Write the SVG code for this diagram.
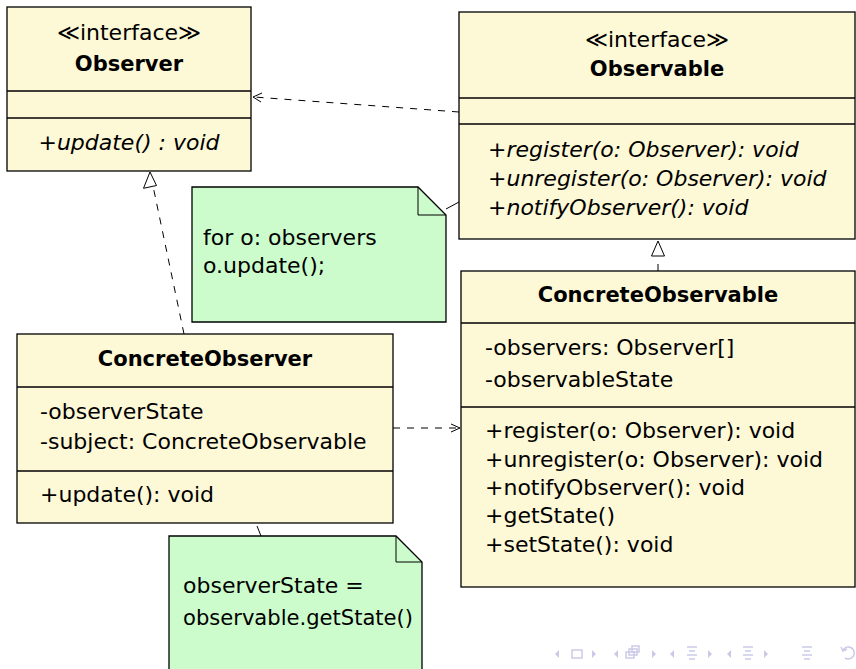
<svg xmlns="http://www.w3.org/2000/svg" width="856" height="669" viewBox="0 0 856 669">
<style>
.box{fill:#fdf8d6;stroke:#000;stroke-width:1.3}
.note{fill:#ccfccc;stroke:#000;stroke-width:1.3}
.sep{stroke:#000;stroke-width:1.3}
text{font-family:"DejaVu Sans","Liberation Sans",sans-serif;font-size:22px;fill:#000}
.t{font-weight:bold;font-size:21px;text-anchor:middle}
.st{text-anchor:middle}
.it{font-style:italic}
.dash{fill:none;stroke:#000;stroke-width:1;stroke-dasharray:7 7}
.solid{fill:none;stroke:#000;stroke-width:1}
.head{fill:none;stroke:#000;stroke-width:1}
.tri{fill:#fff;stroke:#000;stroke-width:1}
.nav{fill:#cacae8;stroke:none}
.navs{fill:none;stroke:#cacae8;stroke-width:1.5}
</style>
<rect width="856" height="669" fill="#fff"/>
<g id="connectors">
  <path class="dash" d="M459,112 L254,97"/>
  <path class="head" d="M262,93 L253,97 L261,102"/>
  <path class="solid" d="M446,209 L459,202"/>
  <path class="dash" d="M658,271 L658,257"/>
  <path class="tri" d="M658,241 L664.5,256 L651.5,256 Z"/>
  <path class="dash" d="M184,334 L153,186"/>
  <path class="tri" d="M150,172 L156.5,185.5 L143.5,188.3 Z"/>
  <path class="dash" d="M393,428 L459,428"/>
  <path class="head" d="M451,424 L460,428 L451,432"/>
  <path class="solid" d="M257,526 L261,536"/>
</g>
<g id="Observer">
  <rect class="box" x="7" y="7" width="244" height="164"/>
  <line class="sep" x1="7" y1="91" x2="251" y2="91"/>
  <line class="sep" x1="7" y1="118" x2="251" y2="118"/>
  <text class="st" x="129" y="40">≪interface≫</text>
  <text class="t" x="129" y="71">Observer</text>
  <text class="st it" x="129" y="150">+update() : void</text>
</g>
<g id="Observable">
  <rect class="box" x="459" y="12" width="396" height="227"/>
  <line class="sep" x1="459" y1="98" x2="855" y2="98"/>
  <line class="sep" x1="459" y1="124" x2="855" y2="124"/>
  <text class="st" x="657" y="47">≪interface≫</text>
  <text class="t" x="657" y="76">Observable</text>
  <text class="it" x="488" y="157">+register(o: Observer): void</text>
  <text class="it" x="488" y="186">+unregister(o: Observer): void</text>
  <text class="it" x="488" y="215">+notifyObserver(): void</text>
</g>
<g id="note1">
  <path class="note" d="M192,187 H418 L446,215 V322 H192 Z"/>
  <path class="solid" d="M418,187 V215 H446"/>
  <text x="203" y="245">for o: observers</text>
  <text x="203" y="273">o.update();</text>
</g>
<g id="ConcreteObservable">
  <rect class="box" x="461" y="271" width="394" height="316"/>
  <line class="sep" x1="461" y1="323" x2="855" y2="323"/>
  <line class="sep" x1="461" y1="407" x2="855" y2="407"/>
  <text class="t" x="658" y="302">ConcreteObservable</text>
  <text x="485" y="355">-observers: Observer[]</text>
  <text x="485" y="387">-observableState</text>
  <text x="485" y="438">+register(o: Observer): void</text>
  <text x="485" y="467">+unregister(o: Observer): void</text>
  <text x="485" y="495">+notifyObserver(): void</text>
  <text x="485" y="523">+getState()</text>
  <text x="485" y="552">+setState(): void</text>
</g>
<g id="ConcreteObserver">
  <rect class="box" x="17" y="334" width="376" height="189"/>
  <line class="sep" x1="17" y1="387" x2="393" y2="387"/>
  <line class="sep" x1="17" y1="471" x2="393" y2="471"/>
  <text class="t" x="205" y="366">ConcreteObserver</text>
  <text x="40" y="419">-observerState</text>
  <text x="40" y="449">-subject: ConcreteObservable</text>
  <text x="40" y="502">+update(): void</text>
</g>
<g id="note2">
  <path class="note" d="M169,536 H396 L422,562 V680 H169 Z"/>
  <path class="solid" d="M396,536 V562 H422"/>
  <text x="183" y="593">observerState =</text>
  <text x="183" y="625" textLength="230" lengthAdjust="spacingAndGlyphs">observable.getState()</text>
</g>
<g id="navigation">
  <path class="nav" d="M559,650 L555,654 L559,658 Z"/>
  <rect class="navs" x="572" y="650" width="10" height="8"/>
  <path class="nav" d="M592,650 L596,654 L592,658 Z"/>
  <path class="nav" d="M618,650 L614,654 L618,658 Z"/>
  <rect class="navs" x="626" y="652" width="8" height="6"/>
  <rect class="navs" x="629" y="649" width="8" height="6"/>
  <rect class="navs" x="632" y="646" width="7" height="6"/>
  <path class="nav" d="M652,650 L656,654 L652,658 Z"/>
  <path class="nav" d="M674,650 L670,654 L674,658 Z"/>
  <path class="navs" d="M687,647 H697 M689,651 H695 M687,655 H697 M689,659 H695"/>
  <path class="nav" d="M708,650 L712,654 L708,658 Z"/>
  <path class="nav" d="M731,650 L727,654 L731,658 Z"/>
  <path class="navs" d="M743,647 H753 M745,651 H751 M743,655 H753 M745,659 H751"/>
  <path class="nav" d="M764,650 L768,654 L764,658 Z"/>
  <path class="navs" d="M802,647 H812 M804,651 H810 M802,655 H812 M804,659 H810"/>
  <path class="navs" d="M843,650 A6,6 0 1 1 845,658 M841,647 L843,651 L847,649"/>
</g>
</svg>
